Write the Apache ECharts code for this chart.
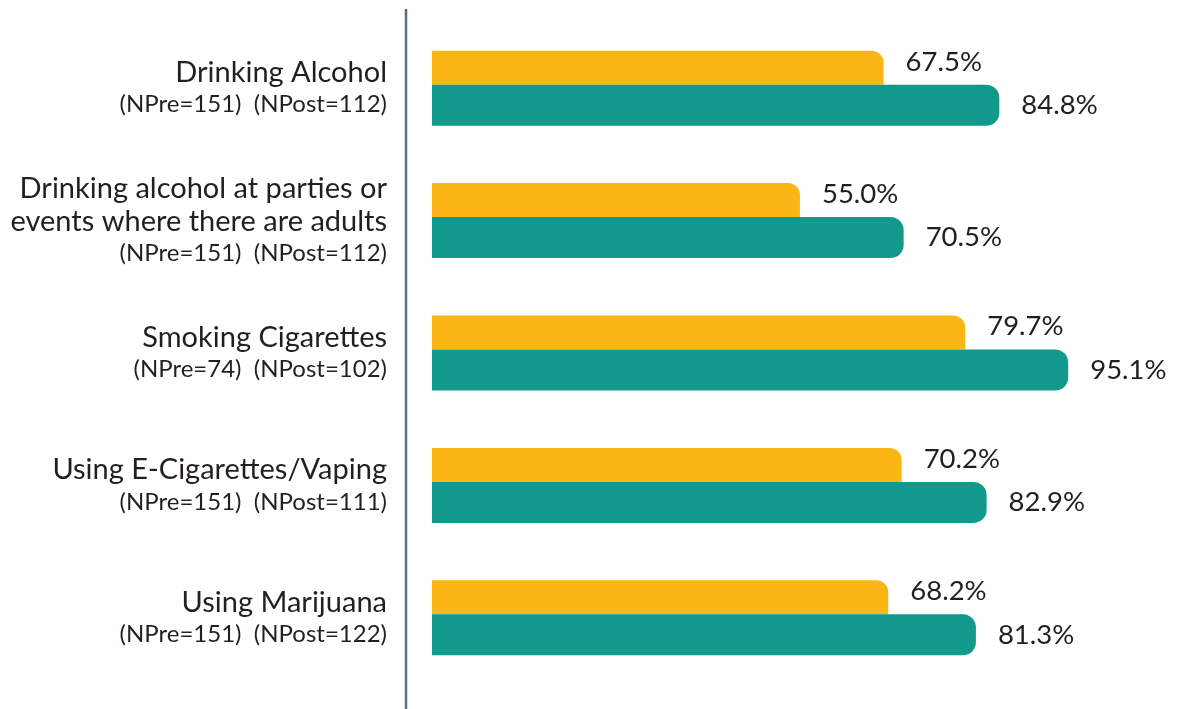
<!DOCTYPE html>
<html>
<head>
<meta charset="utf-8">
<script src="https://cdn.jsdelivr.net/npm/echarts@6/dist/echarts.min.js"></script>
<style>
html,body{margin:0;padding:0;background:#fff;}
#chart{width:1191px;height:709px;}
</style>
</head>
<body>
<div id="chart"></div>
<script>
const categories = [
  'Drinking Alcohol',
  'Drinking alcohol at parties or\nevents where there are adults',
  'Smoking Cigarettes',
  'Using E-Cigarettes/Vaping',
  'Using Marijuana'
];
const nPre = [151, 151, 74, 151, 151];
const nPost = [112, 112, 102, 111, 122];
const preValues = [67.5, 55.0, 79.7, 70.2, 68.2];
const postValues = [84.8, 70.5, 95.1, 82.9, 81.3];

const textColor = '#231F20';
const chart = echarts.init(document.getElementById('chart'), null, {renderer: 'canvas'});

const option = {
  animation: false,
  backgroundColor: '#ffffff',
  textStyle: {fontFamily: 'Lato'},
  grid: {left: 432, right: 90, top: 22, bottom: 25, containLabel: false},
  xAxis: {
    type: 'value', min: 0, max: 100,
    show: false
  },
  yAxis: {
    type: 'category',
    inverse: true,
    data: categories,
    axisLine: {show: false},
    axisTick: {show: false},
    splitLine: {show: false},
    axisLabel: {
      interval: 0,
      margin: 45,
      align: 'right',
      formatter: function (value, idx) {
        const main = value.split('\n').map(l => '{a|' + l + '}').join('\n');
        return main + '\n{b|(NPre=' + nPre[idx] + ')  (NPost=' + nPost[idx] + ')}';
      },
      rich: {
        a: {fontFamily: 'Lato', fontSize: 29, color: textColor, lineHeight: 33, align: 'right'},
        b: {fontFamily: 'Lato', fontSize: 24, color: textColor, lineHeight: 31, align: 'right'}
      }
    }
  },
  graphic: [{
    type: 'line',
    shape: {x1: 406, y1: 9, x2: 406, y2: 709},
    style: {stroke: '#5B6B88', lineWidth: 2.5},
    silent: true
  }],
  series: [
    {
      name: 'Pre',
      type: 'bar',
      data: preValues,
      barWidth: 34,
      barGap: '0%',
      itemStyle: {color: '#FBB615', borderRadius: [0, 12, 0, 0]},
      label: {
        show: true, position: 'right', distance: 22, offset: [0, -6],
        fontFamily: 'Lato', fontSize: 27.5, color: textColor,
        formatter: p => p.value.toFixed(1) + '%'
      },
      z: 2
    },
    {
      name: 'Post',
      type: 'bar',
      data: postValues,
      barWidth: 41,
      itemStyle: {color: '#13998B', borderRadius: [0, 13, 13, 0]},
      label: {
        show: true, position: 'right', distance: 22,
        fontFamily: 'Lato', fontSize: 27.5, color: textColor,
        formatter: p => p.value.toFixed(1) + '%'
      },
      z: 3
    }
  ]
};
chart.setOption(option);
</script>
</body>
</html>
